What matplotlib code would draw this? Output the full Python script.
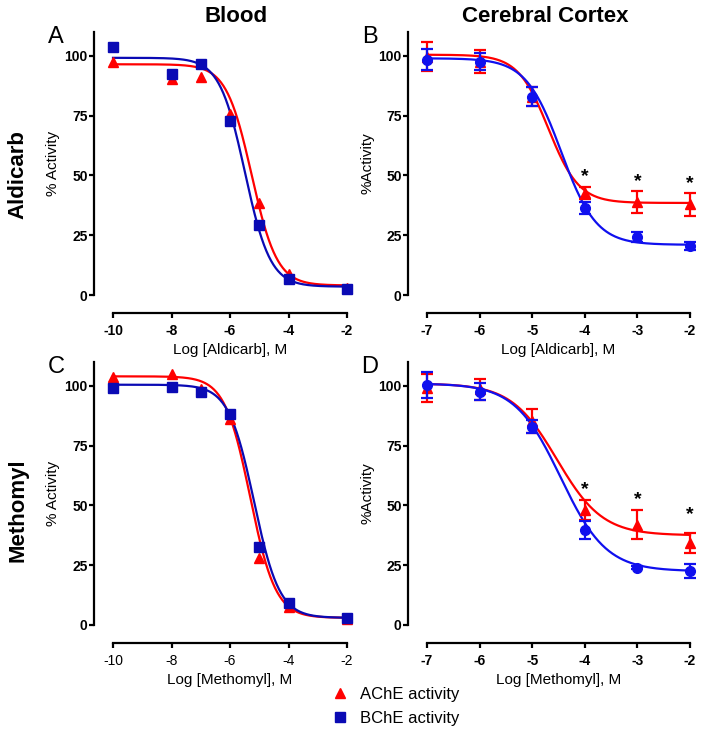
import numpy as np
import matplotlib
matplotlib.use('Agg')
import matplotlib.pyplot as plt

plt.rcParams['font.family'] = ['Liberation Sans', 'DejaVu Sans']
plt.rcParams['axes.unicode_minus'] = False

RED = '#ff0000'
DBLUE = '#0a0ab4'
BLUE = '#1010ee'

# Blood (A, C): log concentration
x_blood = [-10, -8, -7, -6, -5, -4, -2]
a_ache = [97.6, 90.4, 91.0, 75.7, 38.5, 8.7, 3.0]
a_bche = [103.6, 92.5, 96.6, 72.9, 29.2, 6.7, 2.5]
c_ache = [103.9, 105.0, 98.6, 86.0, 28.0, 7.5, 2.5]
c_bche = [99.3, 99.7, 97.5, 88.3, 32.7, 9.0, 2.8]

# Cerebral cortex (B, D): mean and sem
x_cortex = [-7, -6, -5, -4, -3, -2]
b_ache = [99.7, 97.6, 83.0, 42.7, 39.0, 38.0]
b_ache_err = [6.0, 4.8, 4.0, 2.6, 4.6, 4.8]
b_bche = [98.3, 97.6, 83.0, 36.3, 24.3, 20.4]
b_bche_err = [4.4, 3.6, 3.8, 2.5, 2.0, 1.7]
d_ache = [99.0, 98.5, 85.5, 48.0, 42.0, 34.4]
d_ache_err = [5.8, 4.3, 5.0, 4.2, 6.1, 4.2]
d_bche = [100.4, 97.6, 83.0, 39.7, 23.9, 22.6]
d_bche_err = [5.6, 3.7, 2.7, 3.7, 0.6, 2.8]

# fitted curves: top, bottom, logIC50, hill
fit_a = {'ache': (96.5, 4.0, -5.26, 1.0), 'bche': (99.2, 3.5, -5.49, 1.0)}
fit_b = {'ache': (100.5, 38.5, -4.69, 1.5), 'bche': (99.0, 21.0, -4.45, 1.3)}
fit_c = {'ache': (104.0, 3.0, -5.31, 1.0), 'bche': (100.5, 3.0, -5.18, 1.0)}
fit_d = {'ache': (101.0, 37.5, -4.53, 1.0), 'bche': (101.0, 22.5, -4.46, 1.0)}

stars_b = [49.7, 47.6, 46.7]
stars_d = [56.7, 52.5, 46.0]
star_x = [-4, -3, -2]

W, H = 704, 737


def curve(x, p):
    top, bottom, ic50, hill = p
    return bottom + (top - bottom) / (1 + 10 ** ((x - ic50) * hill))


def make_ax(left, right, top, bottom, xlo, xhi, yoff):
    ax = fig.add_axes([left / W, 1 - bottom / H, (right - left) / W, (bottom - top) / H])
    ax.set_xlim(xlo, xhi)
    ax.set_ylim(0, 110)
    for s in ['top', 'right']:
        ax.spines[s].set_visible(False)
    ax.spines['left'].set_position(('outward', yoff * 0.72))
    ax.spines['bottom'].set_position(('outward', 18 * 0.72))
    ax.spines['left'].set_bounds(0, 110)
    ax.spines['bottom'].set_bounds(xlo, xhi)
    for s in ['left', 'bottom']:
        ax.spines[s].set_linewidth(1.6)
    ax.set_yticks([0, 25, 50, 75, 100])
    ax.set_xticks(range(xlo, xhi + 1, 2 if xhi - xlo > 5 else 1))
    ax.tick_params(width=1.6, length=3.6, labelsize=10)
    ax.tick_params(axis='y', pad=1)
    ax.tick_params(axis='x', pad=4)
    for t in ax.get_yticklabels():
        t.set_fontweight('bold')
    return ax


fig = plt.figure(figsize=(W / 100, H / 100), dpi=100)

panels = [
    (113, 347, 32, 295, -10, -2, 19, 'A', True, x_blood, a_ache, a_bche, None, None, fit_a, None,
     '% Activity', 'Log [Aldicarb], M'),
    (427, 690, 32, 295, -7, -2, 19, 'B', False, x_cortex, b_ache, b_bche, b_ache_err, b_bche_err, fit_b, stars_b,
     '%Activity', 'Log [Aldicarb], M'),
    (113, 347, 362, 625, -10, -2, 19, 'C', True, x_blood, c_ache, c_bche, None, None, fit_c, None,
     '% Activity', 'Log [Methomyl], M'),
    (427, 690, 362, 625, -7, -2, 19, 'D', False, x_cortex, d_ache, d_bche, d_ache_err, d_bche_err, fit_d, stars_d,
     '%Activity', 'Log [Methomyl], M'),
]

for (l, r, t, b, xlo, xhi, yoff, letter, blood, xs, ache, bche, aerr, berr, fit, stars, ylab, xlab) in panels:
    ax = make_ax(l, r, t, b, xlo, xhi, yoff)
    xx = np.linspace(xlo, xhi, 300)
    bcol = DBLUE if blood else BLUE
    ax.plot(xx, curve(xx, fit['ache']), color=RED, lw=1.6, clip_on=False, zorder=2)
    ax.plot(xx, curve(xx, fit['bche']), color=bcol, lw=1.6, clip_on=False, zorder=2)
    if blood:
        ax.plot(xs, ache, '^', color=RED, ms=7, clip_on=False, zorder=3)
        ax.plot(xs, bche, 's', color=bcol, ms=7, clip_on=False, zorder=4)
        for tl in ax.get_xticklabels():
            tl.set_fontweight('bold' if letter == 'A' else 'normal')
    else:
        ax.errorbar(xs, ache, yerr=aerr, fmt='^', color=RED, ms=7, capsize=4.5, elinewidth=1.6,
                    capthick=1.6, clip_on=False, zorder=3)
        ax.errorbar(xs, bche, yerr=berr, fmt='o', color=bcol, ms=7, capsize=4.5, elinewidth=1.6,
                    capthick=1.6, clip_on=False, zorder=4)
        for sx, sy in zip(star_x, stars):
            ax.text(sx, sy, '*', ha='center', va='center', fontsize=14, fontweight='bold')
        for tl in ax.get_xticklabels():
            tl.set_fontweight('bold')
    ax.set_ylabel(ylab, fontsize=11, labelpad=3)
    ax.set_xlabel(xlab, fontsize=11, labelpad=4)
    fig.text((l - 57) / W, 1 - (t + 5) / H, letter, fontsize=17, ha='center', va='center')

fig.text(236 / W, 1 - 17 / H, 'Blood', fontsize=16, fontweight='bold', ha='center', va='center')
fig.text(545 / W, 1 - 17 / H, 'Cerebral Cortex', fontsize=16, fontweight='bold', ha='center', va='center')
fig.text(18 / W, 1 - 175 / H, 'Aldicarb', fontsize=16, fontweight='bold', rotation=90, ha='center', va='center')
fig.text(18 / W, 1 - 510 / H, 'Methomyl', fontsize=16, fontweight='bold', rotation=90, ha='center', va='center')

# legend
lx = fig.add_axes([0, 0, 1, 1], facecolor='none')
lx.set_xlim(0, W)
lx.set_ylim(H, 0)
lx.axis('off')
lx.plot([340], [693], '^', color=RED, ms=7)
lx.plot([340], [717], 's', color=DBLUE, ms=7)
lx.text(360, 694, 'AChE activity', fontsize=12, va='center')
lx.text(360, 718, 'BChE activity', fontsize=12, va='center')

fig.savefig('out.png', dpi=100)
